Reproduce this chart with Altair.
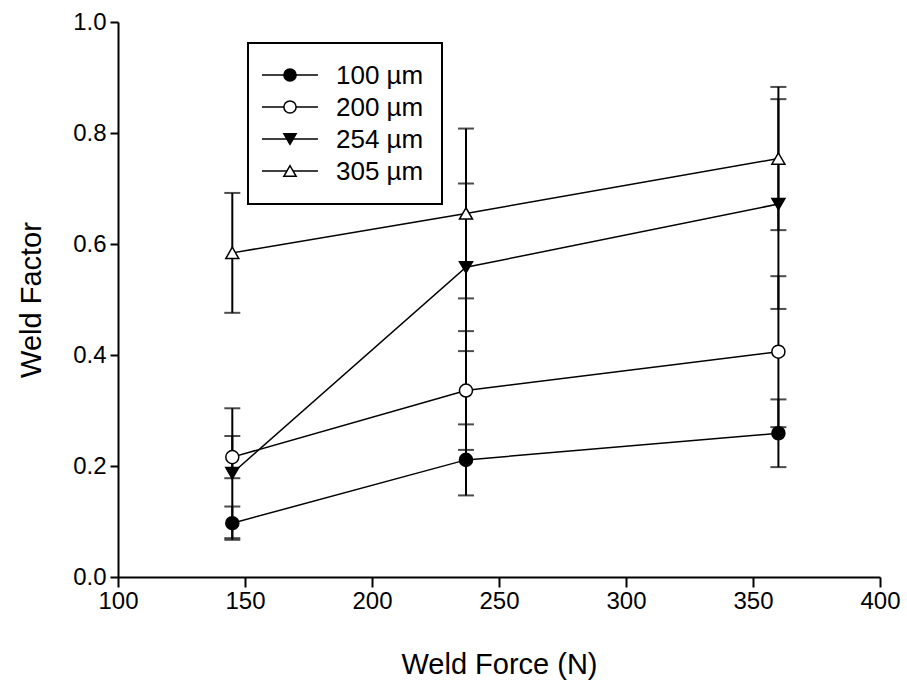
import altair as alt
import pandas as pd

force = [145, 237, 360]
series = ["100 µm", "200 µm", "254 µm", "305 µm"]
y100 = [0.097, 0.211, 0.259]
e100 = [0.030, 0.064, 0.061]
y200 = [0.216, 0.336, 0.406]
e200 = [0.038, 0.107, 0.136]
y254 = [0.187, 0.558, 0.672]
e254 = [0.117, 0.151, 0.189]
y305 = [0.584, 0.655, 0.754]
e305 = [0.108, 0.153, 0.129]

rows = []
for name, ys, es in zip(series, [y100, y200, y254, y305], [e100, e200, e254, e305]):
    for f, y, e in zip(force, ys, es):
        rows.append({"force": f, "factor": y, "lo": y - e, "hi": y + e, "series": name})
df = pd.DataFrame(rows)
leg_df = pd.DataFrame({"series": series, "row": list(range(len(series)))})

FONT = "Liberation Sans"
fills = ["black", "white", "black", "white"]
plot_shapes = ["circle", "circle", "triangle-down", "triangle-up"]

shape_scale = alt.Scale(domain=series, range=plot_shapes)
fill_scale = alt.Scale(domain=series, range=fills)

xs = alt.Scale(domain=[100, 400], nice=False, zero=False)
ys = alt.Scale(domain=[0, 1], nice=False)

base = alt.Chart(df)

x_enc = alt.X("force:Q", scale=xs, title="Weld Force (N)",
              axis=alt.Axis(values=[100, 150, 200, 250, 300, 350, 400], tickSize=10,
                            labelFlush=False, labelPadding=2, titlePadding=37))
y_enc = alt.Y("factor:Q", scale=ys, title="Weld Factor",
              axis=alt.Axis(values=[0, 0.2, 0.4, 0.6, 0.8, 1.0], format=".1f", tickSize=8,
                            labelFlush=False, labelPadding=4, titlePadding=26))

lines = base.mark_line(color="black", strokeWidth=1.5).encode(
    x=x_enc, y=y_enc, detail="series:N", order="force:Q"
)
rules = base.mark_rule(color="black", strokeWidth=2).encode(
    x="force:Q", y="lo:Q", y2="hi:Q"
)
caps_lo = base.mark_tick(color="black", orient="horizontal", size=16, thickness=2).encode(
    x="force:Q", y="lo:Q"
)
caps_hi = base.mark_tick(color="black", orient="horizontal", size=16, thickness=2).encode(
    x="force:Q", y="hi:Q"
)
points = base.mark_point(filled=True, stroke="black", strokeWidth=1.5, size=170, opacity=1).encode(
    x="force:Q", y="factor:Q",
    shape=alt.Shape("series:N", scale=shape_scale, legend=None),
    fill=alt.Fill("series:N", scale=fill_scale, legend=None),
)
main = alt.layer(lines, rules, caps_lo, caps_hi, points)

# legend drawn as marks in a box at the upper left of the plot
lbase = alt.Chart(leg_df)
row_y = alt.Y("row:Q", scale=alt.Scale(domain=[0, 3], range=[53, 149]), axis=None)
box = lbase.mark_rect(fill="white", stroke="black", strokeWidth=2).encode(
    x=alt.value(130), x2=alt.value(324), y=alt.value(21), y2=alt.value(182)
)
leg_lines = lbase.mark_rule(color="black", strokeWidth=1.5).encode(
    x=alt.value(144), x2=alt.value(200), y=row_y
)
leg_pts = lbase.mark_point(filled=True, stroke="black", strokeWidth=1.5, size=150, opacity=1).encode(
    x=alt.value(172), y="row:Q",
    shape=alt.Shape("series:N", scale=shape_scale, legend=None),
    fill=alt.Fill("series:N", scale=fill_scale, legend=None),
)
leg_text = lbase.mark_text(align="left", baseline="middle", font=FONT, fontSize=26,
                           color="black", dy=1).encode(
    x=alt.value(218), y="row:Q", text="series:N"
)
legend = alt.layer(box, leg_lines, leg_pts, leg_text)

chart = alt.layer(main, legend).resolve_scale(y="independent").properties(
    width=762, height=555,
    autosize=alt.AutoSizeParams(type="none"),
    padding={"left": 118, "top": 22, "right": 27, "bottom": 108},
).configure_view(stroke=None).configure_axis(
    grid=False, domainColor="black", domainWidth=2, tickColor="black", tickWidth=2,
    labelFont=FONT, labelFontSize=24, labelColor="black",
    titleFont=FONT, titleFontSize=29, titleColor="black", titleFontWeight="normal",
)

chart.save("out.html", embed_options={"renderer": "svg", "actions": False})
